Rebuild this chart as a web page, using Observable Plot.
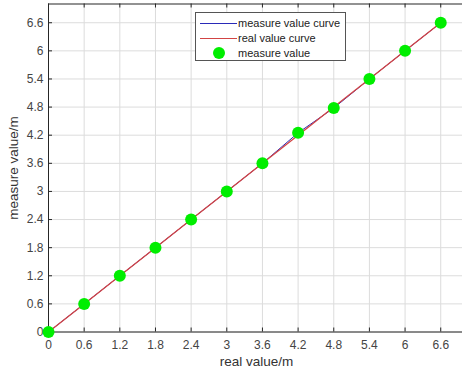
<!DOCTYPE html>
<html><head><meta charset="utf-8">
<script src="https://cdn.jsdelivr.net/npm/d3@7"></script>
<script src="https://cdn.jsdelivr.net/npm/@observablehq/plot@0.6"></script>
<style>
body{margin:0;background:#fff;font-family:"Liberation Sans",Arial,sans-serif;}
#wrap{position:relative;width:462px;height:378px;overflow:hidden;}
#legend{position:absolute;left:195px;top:12px;width:151px;height:49px;border:1px solid #555;background:#fff;font-size:11px;color:#222;box-sizing:border-box;}
#legend .row{position:absolute;left:0;height:14px;line-height:14px;}
#legend .sw{position:absolute;left:4px;width:37px;top:7px;height:0;}
#legend .tx{position:absolute;left:42px;top:0;white-space:nowrap;}
</style></head><body>
<div id="wrap"></div>
<script>
const realValues = [0, 0.6, 1.2, 1.8, 2.4, 3.0, 3.6, 4.2, 4.8, 5.4, 6.0, 6.6];
const measuredValues = [0, 0.6, 1.2, 1.8, 2.4, 3.0, 3.6, 4.25, 4.78, 5.4, 6.0, 6.6];
const tickValues = [0, 0.6, 1.2, 1.8, 2.4, 3, 3.6, 4.2, 4.8, 5.4, 6, 6.6];
const seriesNames = ["measure value curve", "real value curve", "measure value"];

const W = 462, H = 378, mL = 48, mR = -2, mT = 3.5, mB = 46.5;
const plotW = W - mL - mR, plotH = H - mT - mB;
const measured = realValues.map((x, i) => ({x, y: measuredValues[i]}));
const real = realValues.map(x => ({x, y: x}));

const chart = Plot.plot({
  width: W, height: H,
  marginLeft: mL, marginRight: mR, marginTop: mT, marginBottom: mB,
  style: {fontFamily: '"Liberation Sans", Arial, sans-serif', fontSize: "12px", color: "#3a3a3a", background: "#fff"},
  x: {domain: [0, 7]},
  y: {domain: [0, 7]},
  marks: [
    Plot.gridX(tickValues, {stroke: "#dcdcdc", strokeOpacity: 1}),
    Plot.gridY(tickValues, {stroke: "#dcdcdc", strokeOpacity: 1}),
    Plot.tickX(tickValues, {x: d => d, insetTop: plotH - 4, stroke: "#262626"}),
    Plot.tickX(tickValues, {x: d => d, insetBottom: plotH - 4, stroke: "#262626"}),
    Plot.tickY(tickValues, {y: d => d, insetRight: plotW - 4, stroke: "#262626"}),
    Plot.frame({stroke: "#262626"}),
    Plot.axisX(tickValues, {tickSize: 0, tickPadding: 8, tickFormat: d => String(d), fill: "#444", fontSize: 12,
      label: "real value/m", labelAnchor: "center", labelArrow: "none", labelOffset: 34}),
    Plot.axisY(tickValues, {tickSize: 0, tickPadding: 5, tickFormat: d => String(d), fill: "#444", fontSize: 12,
      label: "measure value/m", labelAnchor: "center", labelArrow: "none", labelOffset: 40}),
    Plot.line(measured, {x: "x", y: "y", stroke: "#2a2ab8", strokeWidth: 1}),
    Plot.line(real, {x: "x", y: "y", stroke: "#d24444", strokeWidth: 1.3}),
    Plot.dot(measured, {x: "x", y: "y", r: 6, fill: "#00ee00", stroke: "none"})
  ]
});
chart.querySelectorAll("[aria-label='x-axis label'] text, [aria-label='y-axis label'] text").forEach(t => {t.setAttribute("font-size", "13.5"); t.setAttribute("fill", "#333");});
const wrap = document.getElementById("wrap");
wrap.appendChild(chart);

const leg = document.createElement("div");
leg.id = "legend";
const styles = [
  {line: "#2a2ab8"}, {line: "#d24444"}, {dot: "#00ee00"}
];
seriesNames.forEach((name, i) => {
  const row = document.createElement("div");
  row.className = "row";
  row.style.top = (3 + i * 15) + "px";
  row.style.width = "148px";
  const sw = document.createElement("div");
  sw.className = "sw";
  if (styles[i].line) { sw.style.borderTop = "1px solid " + styles[i].line; }
  else { sw.style.left = "17px"; sw.style.top = "1px"; sw.style.width = "12px"; sw.style.height = "12px"; sw.style.borderRadius = "50%"; sw.style.background = styles[i].dot; }
  const tx = document.createElement("div");
  tx.className = "tx";
  tx.textContent = name;
  row.appendChild(sw); row.appendChild(tx);
  leg.appendChild(row);
});
wrap.appendChild(leg);
</script>
</body></html>
